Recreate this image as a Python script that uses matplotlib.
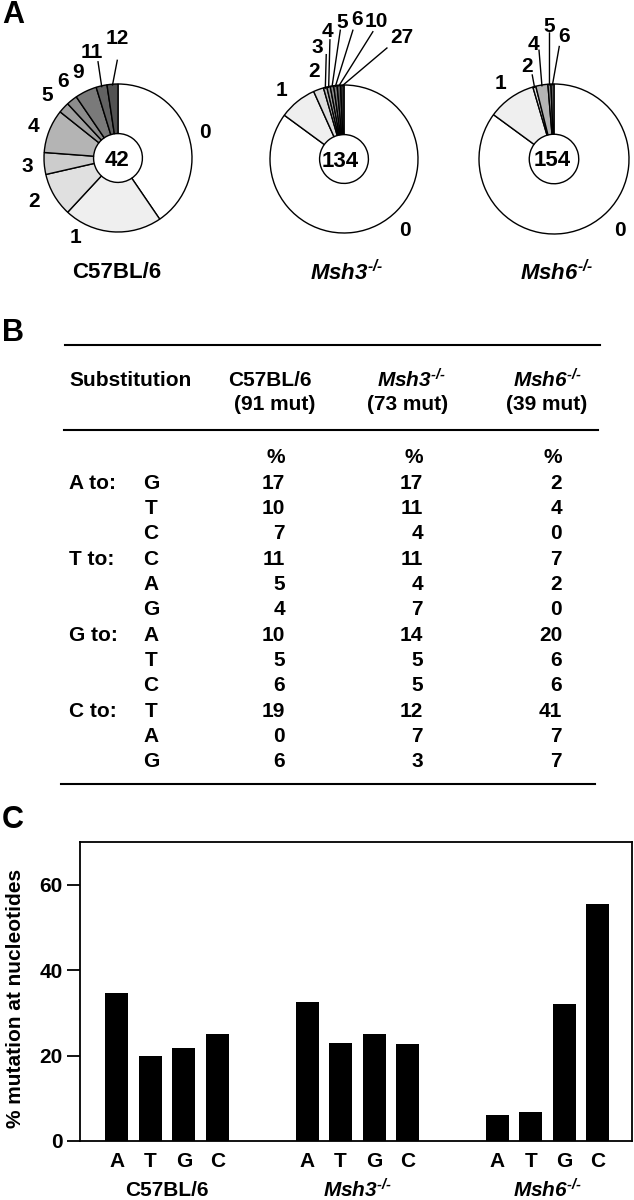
import matplotlib
matplotlib.use("Agg")
import matplotlib.pyplot as plt
import matplotlib.transforms as mtransforms
import numpy as np

plt.rcParams["font.family"] = ["Liberation Sans", "DejaVu Sans"]
plt.rcParams["font.weight"] = "bold"
# mathtext is only used for the italic gene names, so make every math font bold italic
plt.rcParams["mathtext.fontset"] = "custom"
plt.rcParams["mathtext.rm"] = "Liberation Sans:italic:bold"
plt.rcParams["mathtext.it"] = "Liberation Sans:italic:bold"
plt.rcParams["mathtext.bf"] = "Liberation Sans:italic:bold"

# ---- data -------------------------------------------------------------
strains = ["C57BL/6", "$Msh3^{\u2010/\u2010}$", "$Msh6^{\u2010/\u2010}$"]
clone_totals = [42, 134, 154]

# panel A: clones by number of mutations
pie1_labels = ["0", "1", "2", "3", "4", "5", "6", "9", "11", "12"]
pie1_counts = [17, 9, 4, 2, 4, 1, 1, 2, 1, 1]
pie2_labels = ["0", "1", "2", "3", "4", "5", "6", "10", "27"]
pie2_counts = [114, 11, 3, 1, 1, 1, 1, 1, 1]
pie3_labels = ["0", "1", "2", "4", "5", "6"]
pie3_counts = [131, 16, 1, 4, 1, 1]

# panel B: substitution spectrum (%)
mut_counts = ["(91 mut)", "(73 mut)", "(39 mut)"]
from_bases = ["A", "T", "G", "C"]
to_bases = [["G", "T", "C"], ["C", "A", "G"], ["A", "T", "C"], ["T", "A", "G"]]
pct_c57 = [17, 10, 7, 11, 5, 4, 10, 5, 6, 19, 0, 6]
pct_msh3 = [17, 11, 4, 11, 4, 7, 14, 5, 5, 12, 7, 3]
pct_msh6 = [2, 4, 0, 7, 2, 0, 20, 6, 6, 41, 7, 7]

# panel C: % mutation at nucleotides
nucleotides = ["A", "T", "G", "C"]
bar_c57 = [34.6, 20.0, 21.8, 25.1]
bar_msh3 = [32.6, 23.0, 25.1, 22.6]
bar_msh6 = [6.0, 6.8, 32.1, 55.5]

# ---- layout / styles ----------------------------------------------------
W, H = 634, 1200
fig = plt.figure(figsize=(W / 100, H / 100), dpi=100)


def fx(x):
    return x / W


def fy(y):
    return 1 - y / H


pie_colors = [
    ["white", "#efefef", "#e0e0e0", "#cccccc", "#b4b4b4", "#a0a0a0", "#8c8c8c", "#7a7a7a", "#626262", "#525252"],
    ["white", "#efefef", "#dedede", "#bbbbbb", "#a0a0a0", "#8c8c8c", "#787878", "#5a5a5a", "#303030"],
    ["white", "#efefef", "#e2e2e2", "#b4b4b4", "#8c8c8c", "#5a5a5a"],
]
pie_centers = [(118, 158, 74), (344, 159, 74), (554, 159, 75)]
title_pos = [(117, 273), (347, 273), (557, 273)]
center_shift = [(-0.02, -0.03), (-0.05, -0.03), (-0.02, -0.02)]

# label positions in units of pie radius
pie_label_xy = [
    [(1.18, 0.35), (-0.57, -1.08), (-1.14, -0.59), (-1.22, -0.12), (-1.14, 0.43),
     (-0.96, 0.85), (-0.74, 1.03), (-0.54, 1.15), (-0.35, 1.43), (-0.01, 1.62)],
    [(0.82, -0.96), (-0.84, 0.92), (-0.41, 1.18), (-0.36, 1.51), (-0.22, 1.72),
     (-0.03, 1.85), (0.18, 1.88), (0.43, 1.86), (0.78, 1.64)],
    [(0.88, -0.95), (-0.72, 1.01), (-0.36, 1.23), (-0.27, 1.53), (-0.07, 1.77), (0.13, 1.64)],
]
# leader line tips for small wedges: {label index: (x, y)}
pie_leaders = [
    {8: (-0.27, 1.30), 9: (-0.01, 1.32)},
    {3: (-0.24, 1.41), 4: (-0.19, 1.61), 5: (-0.05, 1.74), 6: (0.12, 1.74),
     7: (0.39, 1.72), 8: (0.58, 1.50)},
    {2: (-0.29, 1.12), 3: (-0.20, 1.45), 4: (-0.06, 1.68), 5: (0.07, 1.50)},
]

all_counts = [pie1_counts, pie2_counts, pie3_counts]
all_labels = [pie1_labels, pie2_labels, pie3_labels]

for k in range(3):
    cx, cy, R = pie_centers[k]
    half = 2.0 * R
    ax = fig.add_axes([fx(cx - half), fy(cy + half), 2 * half / W, 2 * half / H])
    wedges, _ = ax.pie(all_counts[k], colors=pie_colors[k], startangle=90, counterclock=False,
                       radius=1.0, wedgeprops=dict(width=0.67, edgecolor="black", linewidth=1.0))
    ax.set_xlim(-half / R, half / R)
    ax.set_ylim(-half / R, half / R)
    ax.set_aspect("auto")
    ax.axis("off")
    for i, lab in enumerate(all_labels[k]):
        lx, ly = pie_label_xy[k][i]
        ax.text(lx, ly, lab, ha="center", va="center", fontsize=15, fontweight="bold")
        if i in pie_leaders[k]:
            w = wedges[i]
            mid = np.deg2rad((w.theta1 + w.theta2) / 2)
            tx, ty = pie_leaders[k][i]
            ax.plot([np.cos(mid) * 0.99, tx], [np.sin(mid) * 0.99, ty], color="black", lw=1.0)
    dx, dy = center_shift[k]
    ax.text(dx, dy, str(clone_totals[k]), ha="center", va="center", fontsize=16, fontweight="bold")
    tx, ty = title_pos[k]
    fig.text(fx(tx), fy(ty), strains[k], ha="center", va="center", fontsize=16, fontweight="bold")

# panel letters
for letter, (x, y) in zip(["A", "B", "C"], [(13, 15), (13, 333), (13, 820)]):
    fig.text(fx(x), fy(y), letter, ha="center", va="center", fontsize=22, fontweight="bold")

# ---- panel B: table -------------------------------------------------------
table_font = 15
for y, x0, x1 in [(345, 65, 600), (430, 64, 598), (784, 61, 595)]:
    fig.add_artist(plt.Line2D([fx(x0), fx(x1)], [fy(y), fy(y)], color="black", lw=1.5))

fig.text(fx(69), fy(380), "Substitution", ha="left", va="center", fontsize=table_font)
head_x = [270, 411, 547]
mut_x = [275, 408, 547]
num_x = [285, 423, 562]
for j in range(3):
    fig.text(fx(head_x[j]), fy(380), strains[j], ha="center", va="center", fontsize=table_font)
    fig.text(fx(mut_x[j]), fy(405), mut_counts[j], ha="center", va="center", fontsize=table_font)
    fig.text(fx(num_x[j]), fy(458), "%", ha="right", va="center", fontsize=table_font)

row_y0, row_step = 483, 25.36
columns = [pct_c57, pct_msh3, pct_msh6]
row = 0
for b, base in enumerate(from_bases):
    for t, target in enumerate(to_bases[b]):
        y = row_y0 + row * row_step
        if t == 0:
            fig.text(fx(69), fy(y), base + " to:", ha="left", va="center", fontsize=table_font)
        fig.text(fx(151), fy(y), target, ha="center", va="center", fontsize=table_font)
        for j in range(3):
            fig.text(fx(num_x[j]), fy(y), str(columns[j][row]), ha="right", va="center",
                     fontsize=table_font)
        row += 1

# ---- panel C: bars --------------------------------------------------------
ax = fig.add_axes([fx(80), fy(1141), (632 - 80) / W, (1141 - 842) / H])
group_gap = 5.68
bar_groups = [bar_c57, bar_msh3, bar_msh6]
xs_all, labels_all = [], []
trans = mtransforms.blended_transform_factory(ax.transData, ax.transAxes)
for g, vals in enumerate(bar_groups):
    xs = g * group_gap + np.arange(len(nucleotides))
    ax.bar(xs, vals, width=0.69, color="black")
    xs_all.extend(xs)
    labels_all.extend(nucleotides)
    ax.text(xs.mean(), -0.164, strains[g], transform=trans, ha="center", va="center",
            fontsize=15, fontweight="bold")

ax.set_xlim(-1.10, 15.38)
ax.set_ylim(0, 70)
ax.set_yticks([0, 20, 40, 60])
ax.set_xticks(xs_all)
ax.set_xticklabels(labels_all)
ax.tick_params(axis="x", length=0, pad=8, labelsize=15)
ax.tick_params(axis="y", direction="out", length=9.5, width=1.3, pad=3, labelsize=15)
for s in ax.spines.values():
    s.set_linewidth(1.3)
ax.set_ylabel("% mutation at nucleotides", fontsize=15, fontweight="bold")
ax.yaxis.set_label_coords(-0.10, 0.478)

fig.savefig("out.png", dpi=100)
